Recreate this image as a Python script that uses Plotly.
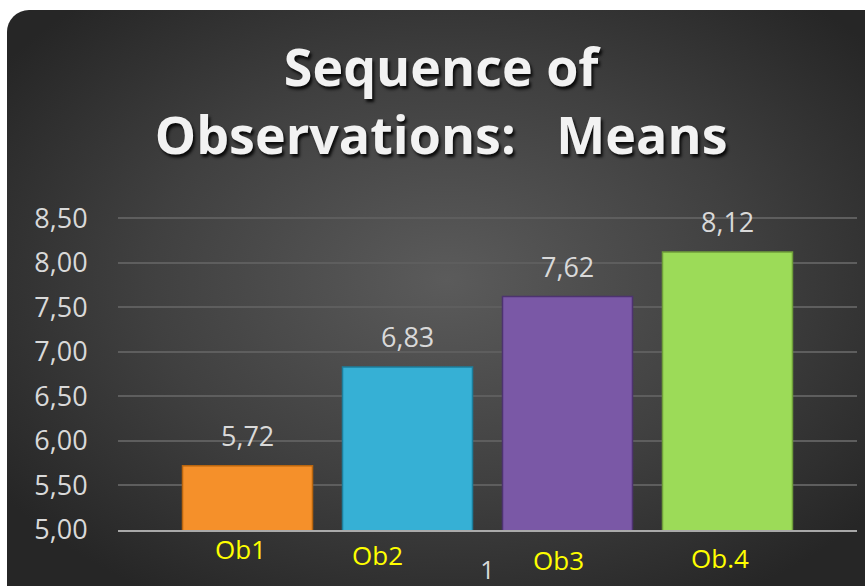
import base64
import plotly.graph_objects as go

# ---- data ----
categories = ["1"]
series_names = ["Ob1", "Ob2", "Ob3", "Ob.4"]
series_values = [5.72, 6.83, 7.62, 8.12]
y_tick_values = [5.0, 5.5, 6.0, 6.5, 7.0, 7.5, 8.0, 8.5]
title_text = "Sequence of<br>Observations:   Means"

# ---- style ----
bar_colors = ["#F5902A", "#36B0D5", "#7A58A6", "#9CDB58"]
bar_lines = ["#b8650f", "#1d7e9c", "#4d3370", "#6f9e3a"]
label_dx = [-7, -30, -9, -7]      # pixel shifts of yellow series labels
label_dy = [-19, -25, -30, -28]

W, H = 865, 586
ML, MR, MT, MB = 118, 8, 215, 56
PW, PH = W - ML - MR, H - MT - MB

svg = f'''<svg xmlns="http://www.w3.org/2000/svg" width="{W}" height="{H}" viewBox="0 0 {W} {H}">
<defs><radialGradient id="g" cx="0.5" cy="0.45" r="0.62">
<stop offset="0" stop-color="#5b5b5b"/><stop offset="0.55" stop-color="#404040"/><stop offset="1" stop-color="#262626"/>
</radialGradient></defs>
<rect x="0" y="0" width="{W}" height="{H}" fill="#ffffff"/>
<rect x="7" y="10" width="880" height="600" rx="22" ry="22" fill="url(#g)"/>
</svg>'''
bg_uri = "data:image/svg+xml;base64," + base64.b64encode(svg.encode()).decode()

bargap = 0.134
groupgap = 0.1875
slot = (1 - bargap) / len(series_names)

fig = go.Figure()
for i, (name, val) in enumerate(zip(series_names, series_values)):
    fig.add_trace(go.Bar(
        x=categories, y=[val], name=name,
        base=0,
        marker=dict(color=bar_colors[i], line=dict(color=bar_lines[i], width=1.5)),
        showlegend=False, hoverinfo="skip",
    ))

annotations = []
for i, (name, val) in enumerate(zip(series_names, series_values)):
    xc = -0.5 * (1 - bargap) + (i + 0.5) * slot
    annotations.append(dict(
        x=xc, y=val, xref="x", yref="y", text=f"{val:.2f}".replace(".", ","),
        showarrow=False, yshift=30, font=dict(family="Open Sans", size=27, color="#d9d9d9")))
    annotations.append(dict(
        x=xc, y=y_tick_values[0], xref="x", yref="y", text=name,
        showarrow=False, xshift=label_dx[i], yshift=label_dy[i],
        font=dict(family="Open Sans", size=26, color="#ffff00")))

fig.update_layout(
    width=W, height=H,
    margin=dict(l=ML, r=MR, t=MT, b=MB, autoexpand=False),
    paper_bgcolor="#ffffff", plot_bgcolor="rgba(0,0,0,0)",
    separators=",.",
    barmode="group", bargap=bargap, bargroupgap=groupgap,
    title=dict(text=title_text, x=0.510, xanchor="center", y=0.853, yanchor="middle",
               font=dict(family="Open Sans", size=52, color="#f2f2f2", weight="bold",
                         shadow="2px 3px 3px rgba(0,0,0,0.85)")),
    images=[dict(source=bg_uri, xref="paper", yref="paper",
                 x=-ML / PW, y=1 + MT / PH, sizex=W / PW, sizey=H / PH,
                 xanchor="left", yanchor="top", sizing="stretch", layer="below")],
    annotations=annotations,
    xaxis=dict(type="category", range=[-0.5, 0.5], showgrid=False,
               showline=True, linecolor="rgba(190,190,190,0.85)", linewidth=2,
               ticks="outside", ticklen=17, tickcolor="rgba(0,0,0,0)",
               tickfont=dict(family="Open Sans", size=25, color="#d9d9d9")),
    yaxis=dict(range=[5.0, 8.535], tickvals=y_tick_values, tickformat=".2f",
               showgrid=True, gridcolor="#5e5e5e", gridwidth=1.5,
               zeroline=False, showline=False, ticks="outside", ticklen=24,
               tickcolor="rgba(0,0,0,0)",
               tickfont=dict(family="Open Sans", size=27, color="#d9d9d9")),
)

fig.write_html("out.html", config={"displayModeBar": False},
               post_script="document.body.style.margin='0';document.body.style.overflow='hidden';")
